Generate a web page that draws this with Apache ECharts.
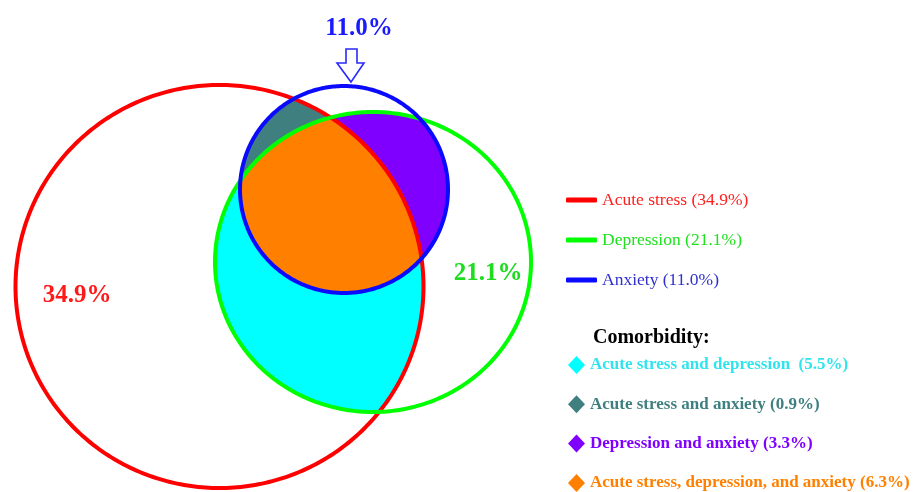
<!DOCTYPE html>
<html>
<head>
<meta charset="utf-8">
<script src="https://cdn.jsdelivr.net/npm/echarts@6/dist/echarts.min.js"></script>
<style>html,body{margin:0;padding:0;background:#fff;}#main{width:919px;height:492px;}</style>
</head>
<body>
<div id="main"></div>
<script>
// ---- data ----
const sets = ['Acute stress', 'Depression', 'Anxiety'];
const setPct = [34.9, 21.1, 11.0];
const comorbidity = ['Acute stress and depression ', 'Acute stress and anxiety', 'Depression and anxiety', 'Acute stress, depression, and anxiety'];
const comorbidityPct = [5.5, 0.9, 3.3, 6.3];
const comorbidityMembers = [[0, 1], [0, 2], [1, 2], [0, 1, 2]];

// ---- layout (ellipse geometry in axis units) ----
const ellipseCx = [219.5, 373, 344];
const ellipseCy = [286.5, 262, 189.5];
const ellipseRx = [204, 158, 104];
const ellipseRy = [201.5, 150, 103.5];
const pctLabelX = [77, 488, 359];
const pctLabelY = [296, 274, 29];
const arrowTip = [351, 82];

// ---- styles ----
const setColors = ['#ff0000', '#00ff00', '#0a0aff'];
const setLabelColors = ['#ff1a1a', '#1edc1e', '#1a1aff'];
const setLegendTextColors = ['#ff2020', '#20e020', '#3030d0'];
const comorbidityColors = ['#00ffff', '#407f80', '#8000ff', '#ff8000'];
const comorbidityTextColors = ['#30e4ee', '#3f7f80', '#8000ff', '#ff8000'];
const SERIF = '"Liberation Serif", "Times New Roman", serif';

function fmt(v) { return v.toFixed(1) + '%'; }
const setNames = sets.map((s, i) => s + ' (' + fmt(setPct[i]) + ')');
const comorbidityNames = comorbidity.map((s, i) => s + ' (' + fmt(comorbidityPct[i]) + ')');

function ellipsePoints(k, api) {
  const pts = [];
  const N = 360;
  for (let i = 0; i < N; i++) {
    const t = 2 * Math.PI * i / N;
    pts.push(api.coord([ellipseCx[k] + ellipseRx[k] * Math.cos(t), ellipseCy[k] + ellipseRy[k] * Math.sin(t)]));
  }
  return pts;
}
function signedArea(p) {
  let a = 0;
  for (let i = 0; i < p.length; i++) {
    const q = p[i], r = p[(i + 1) % p.length];
    a += q[0] * r[1] - r[0] * q[1];
  }
  return a / 2;
}
function clipConvex(subject, clip) {
  const sign = signedArea(clip) > 0 ? 1 : -1;
  let output = subject;
  const n = clip.length;
  for (let i = 0; i < n && output.length; i++) {
    const a = clip[i], b = clip[(i + 1) % n];
    const side = p => sign * ((b[0] - a[0]) * (p[1] - a[1]) - (b[1] - a[1]) * (p[0] - a[0]));
    const input = output;
    output = [];
    for (let j = 0; j < input.length; j++) {
      const cur = input[j], prev = input[(j + input.length - 1) % input.length];
      const dc = side(cur), dp = side(prev);
      if (dc >= 0) {
        if (dp < 0) { const t = dp / (dp - dc); output.push([prev[0] + t * (cur[0] - prev[0]), prev[1] + t * (cur[1] - prev[1])]); }
        output.push(cur);
      } else if (dp >= 0) {
        const t = dp / (dp - dc); output.push([prev[0] + t * (cur[0] - prev[0]), prev[1] + t * (cur[1] - prev[1])]);
      }
    }
  }
  return output;
}

const series = [];
// region fills; painter order: AS&D, anxiety base (white), AS&A, D&A, all three
const regionZ = [1, 3, 4, 5];
comorbidity.forEach((c, i) => {
  series.push({
    name: comorbidityNames[i], type: 'custom', coordinateSystem: 'cartesian2d', clip: false, z: regionZ[i],
    itemStyle: { color: comorbidityColors[i] },
    data: [[0, 0]],
    renderItem: (params, api) => {
      const m = comorbidityMembers[i];
      let poly = ellipsePoints(m[0], api);
      for (let k = 1; k < m.length; k++) poly = clipConvex(poly, ellipsePoints(m[k], api));
      return { type: 'polygon', silent: true, shape: { points: poly }, style: { fill: comorbidityColors[i] } };
    }
  });
});
// white base of the anxiety circle
series.push({
  name: 'anxiety-base', type: 'custom', coordinateSystem: 'cartesian2d', clip: false, z: 2,
  data: [[0, 0]],
  renderItem: (params, api) => ({ type: 'polygon', silent: true, shape: { points: ellipsePoints(2, api) }, style: { fill: '#ffffff' } })
});
// set outlines and labels
const outlineZ = [7, 8, 9];
sets.forEach((s, i) => {
  series.push({
    name: setNames[i], type: 'custom', coordinateSystem: 'cartesian2d', clip: false, z: outlineZ[i],
    itemStyle: { color: setColors[i] },
    data: [[0, 0]],
    renderItem: (params, api) => {
      const lp = api.coord([pctLabelX[i], pctLabelY[i]]);
      const children = [
        { type: 'polygon', silent: true, shape: { points: ellipsePoints(i, api) }, style: { fill: 'none', stroke: setColors[i], lineWidth: 4 } },
        { type: 'text', silent: true, x: lp[0], y: lp[1], style: { text: fmt(setPct[i]), fill: setLabelColors[i], font: 'bold 25px ' + SERIF, textAlign: 'center', textVerticalAlign: 'middle' } }
      ];
      if (i === 2) {
        const t = api.coord(arrowTip);
        const rel = [[0, 0], [13, -19], [6, -19], [6, -33], [-5, -33], [-5, -19], [-14, -19]];
        children.push({ type: 'polygon', silent: true, shape: { points: rel.map(p => [t[0] + p[0], t[1] + p[1]]) }, style: { fill: '#fff', stroke: '#2a2aff', lineWidth: 1.6 } });
      }
      return { type: 'group', children };
    }
  });
});

const chart = echarts.init(document.getElementById('main'), null, { renderer: 'canvas' });
chart.setOption({
  animation: false,
  backgroundColor: '#ffffff',
  grid: { left: 0, right: 0, top: 0, bottom: 0 },
  xAxis: { type: 'value', min: 0, max: 919, show: false },
  yAxis: { type: 'value', min: 0, max: 492, inverse: true, show: false },
  title: { text: 'Comorbidity:', left: 593, top: 328, padding: 0, textStyle: { fontFamily: SERIF, fontWeight: 'bold', fontSize: 20, color: '#000' } },
  legend: [
    {
      orient: 'vertical', left: 566, top: 191, height: 120, padding: 0, itemWidth: 31, itemHeight: 5, itemGap: 22, selectedMode: false,
      textStyle: { fontFamily: SERIF, fontSize: 17.5 },
      data: setNames.map((n, i) => ({ name: n, icon: 'roundRect', itemStyle: { color: setColors[i] }, textStyle: { color: setLegendTextColors[i] } }))
    },
    {
      orient: 'vertical', left: 568, top: 356, height: 160, padding: 0, itemWidth: 17, itemHeight: 18, itemGap: 21.3, selectedMode: false,
      textStyle: { fontFamily: SERIF, fontSize: 17, fontWeight: 'bold' },
      data: comorbidityNames.map((n, i) => ({ name: n, icon: 'diamond', itemStyle: { color: comorbidityColors[i] }, textStyle: { color: comorbidityTextColors[i] } }))
    }
  ],
  series
});
</script>
</body>
</html>
